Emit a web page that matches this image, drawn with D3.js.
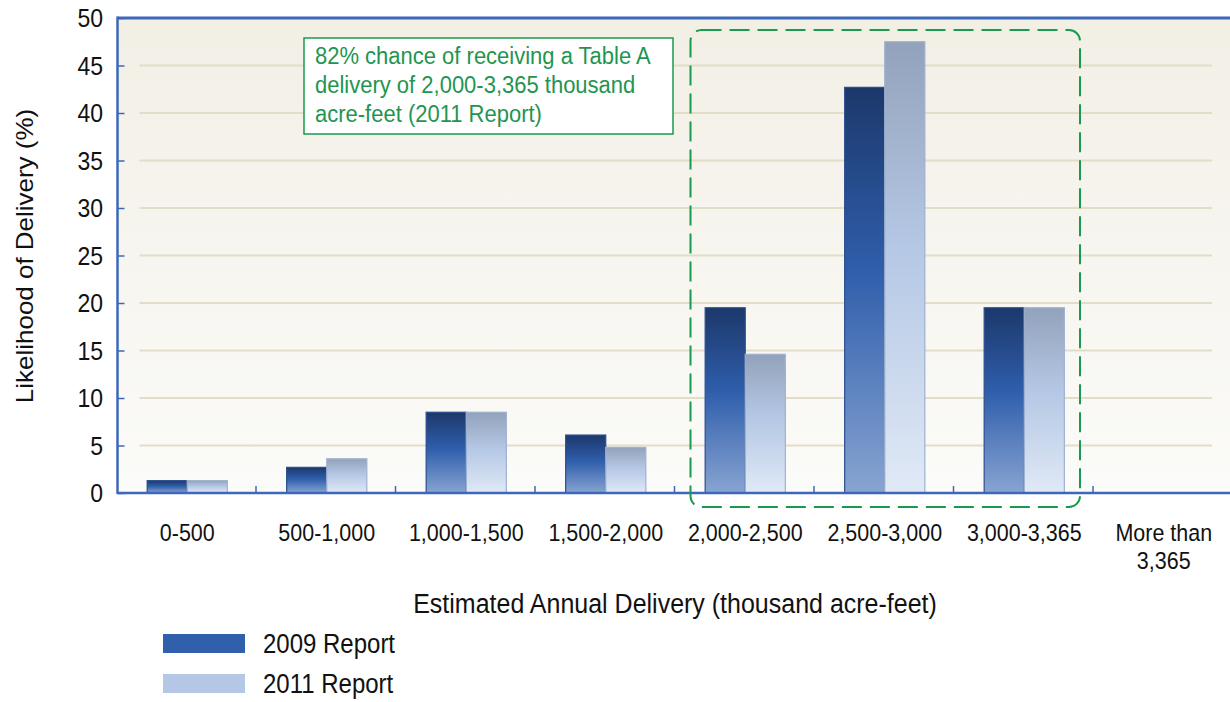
<!DOCTYPE html>
<html>
<head>
<meta charset="utf-8">
<script src="https://cdn.jsdelivr.net/npm/d3@7"></script>
<style>
  body { margin: 0; background: #fff; }
  svg { display: block; font-family: "Liberation Sans", Arial, sans-serif; }
</style>
</head>
<body>
<div id="chart"></div>
<script>
// data
var categories = ["0-500", "500-1,000", "1,000-1,500", "1,500-2,000",
                  "2,000-2,500", "2,500-3,000", "3,000-3,365", "More than|3,365"];
var report2009 = [1.3, 2.7, 8.5, 6.1, 19.5, 42.7, 19.5, 0];
var report2011 = [1.3, 3.6, 8.5, 4.8, 14.6, 47.5, 19.5, 0];
var seriesNames = ["2009 Report", "2011 Report"];
var yTicks = [0, 5, 10, 15, 20, 25, 30, 35, 40, 45, 50];
var noteLines = ["82% chance of receiving a Table A",
                 "delivery of 2,000-3,365 thousand",
                 "acre-feet (2011 Report)"];

var W = 1230, H = 702;
var margin = {left: 117.5, right: 1233.5, top: 18, bottom: 493};
var stretchY = 1.12;   // the original type is a bit taller than it is wide

var svg = d3.select("#chart").append("svg")
    .attr("width", W)
    .attr("height", H);

var defs = svg.append("defs");

function grad(id, stops) {
  var g = defs.append("linearGradient").attr("id", id)
      .attr("x1", 0).attr("y1", 0).attr("x2", 0).attr("y2", 1);
  stops.forEach(function(s) {
    g.append("stop").attr("offset", s[0]).attr("stop-color", s[1]);
  });
}
grad("bg", [["0%", "#f2efe5"], ["100%", "#fbfbf9"]]);
grad("g2009", [["0%", "#1c386b"], ["45%", "#2f5eab"], ["100%", "#88a4d2"]]);
grad("g2011", [["0%", "#93a2bb"], ["45%", "#b4c7e4"], ["100%", "#e0e9f6"]]);

// place a text at (x, y) with the vertical stretch
function at(x, y) {
  return "translate(" + x + "," + y + ") scale(1," + stretchY + ")";
}

var x0 = d3.scaleBand().domain(categories).range([margin.left, margin.right]).padding(0);
var x1 = d3.scaleBand().domain(seriesNames).range([0, x0.bandwidth()])
    .paddingInner(0).paddingOuter(0.74);
var y = d3.scaleLinear().domain([0, 50]).range([margin.bottom, margin.top]);

// plot background
svg.append("rect")
    .attr("x", margin.left).attr("y", margin.top)
    .attr("width", margin.right - margin.left).attr("height", margin.bottom - margin.top)
    .attr("fill", "url(#bg)");

// gridlines
svg.append("g").selectAll("line")
    .data(yTicks.filter(function(t) { return t > 0 && t < 50; }))
    .enter().append("line")
    .attr("x1", margin.left + 22).attr("x2", 1212)
    .attr("y1", function(d) { return y(d); })
    .attr("y2", function(d) { return y(d); })
    .attr("stroke", "#e3ddc8")
    .attr("stroke-width", 2);

// bars
var rows = categories.map(function(c, i) {
  return { cat: c, values: [report2009[i], report2011[i]] };
});

var groups = svg.append("g").selectAll("g")
    .data(rows)
    .enter().append("g")
    .attr("transform", function(d) { return "translate(" + x0(d.cat) + ",0)"; });

groups.selectAll("rect")
    .data(function(d) {
      return d.values.map(function(v, j) { return { name: seriesNames[j], value: v, j: j }; })
        .filter(function(e) { return e.value > 0; });
    })
    .enter().append("rect")
    .attr("x", function(d) { return x1(d.name); })
    .attr("y", function(d) { return y(d.value); })
    .attr("width", x1.bandwidth())
    .attr("height", function(d) { return y(0) - y(d.value); })
    .attr("fill", function(d) { return d.j === 0 ? "url(#g2009)" : "url(#g2011)"; })
    .attr("stroke", function(d) { return d.j === 0 ? "#2a4e8e" : "#9eb1d0"; })
    .attr("stroke-width", 1.2);

// axes frame
var axisColor = "#3d68b8";
svg.append("line")
    .attr("x1", margin.left).attr("x2", W).attr("y1", margin.top).attr("y2", margin.top)
    .attr("stroke", axisColor).attr("stroke-width", 3);
svg.append("line")
    .attr("x1", margin.left).attr("x2", W).attr("y1", margin.bottom).attr("y2", margin.bottom)
    .attr("stroke", axisColor).attr("stroke-width", 2.5);
svg.append("line")
    .attr("x1", margin.left).attr("x2", margin.left)
    .attr("y1", margin.top - 1.5).attr("y2", margin.bottom + 1)
    .attr("stroke", axisColor).attr("stroke-width", 2.5);

// y axis ticks + labels
var yAxis = svg.append("g").attr("transform", "translate(" + margin.left + ",0)")
    .call(d3.axisRight(y).tickValues(yTicks).tickSize(7).tickFormat(""));
yAxis.select(".domain").remove();
yAxis.selectAll("line").attr("stroke", axisColor).attr("stroke-width", 1.5);

svg.append("g").selectAll("text")
    .data(yTicks)
    .enter().append("text")
    .attr("transform", function(d) { return at(103, y(d) + 9); })
    .attr("text-anchor", "end")
    .attr("font-size", 23)
    .attr("fill", "#111")
    .text(function(d) { return d; });

// x ticks at category boundaries
svg.append("g").selectAll("line")
    .data(categories.slice(1))
    .enter().append("line")
    .attr("x1", function(d) { return x0(d) - 1; })
    .attr("x2", function(d) { return x0(d) - 1; })
    .attr("y1", margin.bottom).attr("y2", margin.bottom - 7)
    .attr("stroke", axisColor).attr("stroke-width", 1.5);

// x labels
var xl = svg.append("g").selectAll("text")
    .data(categories)
    .enter().append("text")
    .attr("transform", function(d) { return at(x0(d) + x0.bandwidth() / 2, 541); })
    .attr("text-anchor", "middle")
    .attr("font-size", 21.5)
    .attr("fill", "#111");
xl.each(function(d) {
  var t = d3.select(this);
  d.split("|").forEach(function(s, i) {
    t.append("tspan").attr("x", 0)
        .attr("dy", i === 0 ? 0 : 25).text(s);
  });
});

// axis titles
svg.append("text")
    .attr("transform", at(675, 613))
    .attr("text-anchor", "middle")
    .attr("font-size", 25)
    .attr("fill", "#111")
    .text("Estimated Annual Delivery (thousand acre-feet)");

svg.append("text")
    .attr("transform", "translate(33,256) rotate(-90) scale(1.06,1)")
    .attr("text-anchor", "middle")
    .attr("font-size", 24.5)
    .attr("fill", "#111")
    .text("Likelihood of Delivery (%)");

// dashed highlight box around 2,000-3,365
var green = "#1a9a4e";
var bx0 = x0(categories[4]) + 15,
    bx1 = x0(categories[6]) + x0.bandwidth() - 14;
svg.append("rect")
    .attr("x", bx0)
    .attr("y", y(50) + 12)
    .attr("width", bx1 - bx0)
    .attr("height", y(0) + 14 - (y(50) + 12))
    .attr("rx", 11).attr("ry", 11)
    .attr("fill", "none")
    .attr("stroke", green)
    .attr("stroke-width", 2)
    .attr("stroke-dasharray", "20,8");

// note box
svg.append("rect")
    .attr("x", 304).attr("y", 38)
    .attr("width", 369).attr("height", 96)
    .attr("fill", "#fff")
    .attr("stroke", green)
    .attr("stroke-width", 1.5);

svg.append("g").selectAll("text")
    .data(noteLines)
    .enter().append("text")
    .attr("transform", function(d, i) { return at(315, 64 + i * 29); })
    .attr("font-size", 22)
    .attr("fill", "#1f9550")
    .text(function(d) { return d; });

// legend
var legend = svg.append("g").selectAll("g")
    .data(seriesNames)
    .enter().append("g")
    .attr("transform", function(d, i) { return "translate(163," + (634 + i * 40) + ")"; });
legend.append("rect")
    .attr("width", 82).attr("height", 19)
    .attr("fill", function(d, i) { return i === 0 ? "#3060ac" : "#b4c8e6"; });
legend.append("text")
    .attr("transform", at(100, 19))
    .attr("font-size", 24)
    .attr("fill", "#111")
    .text(function(d) { return d; });
</script>
</body>
</html>
